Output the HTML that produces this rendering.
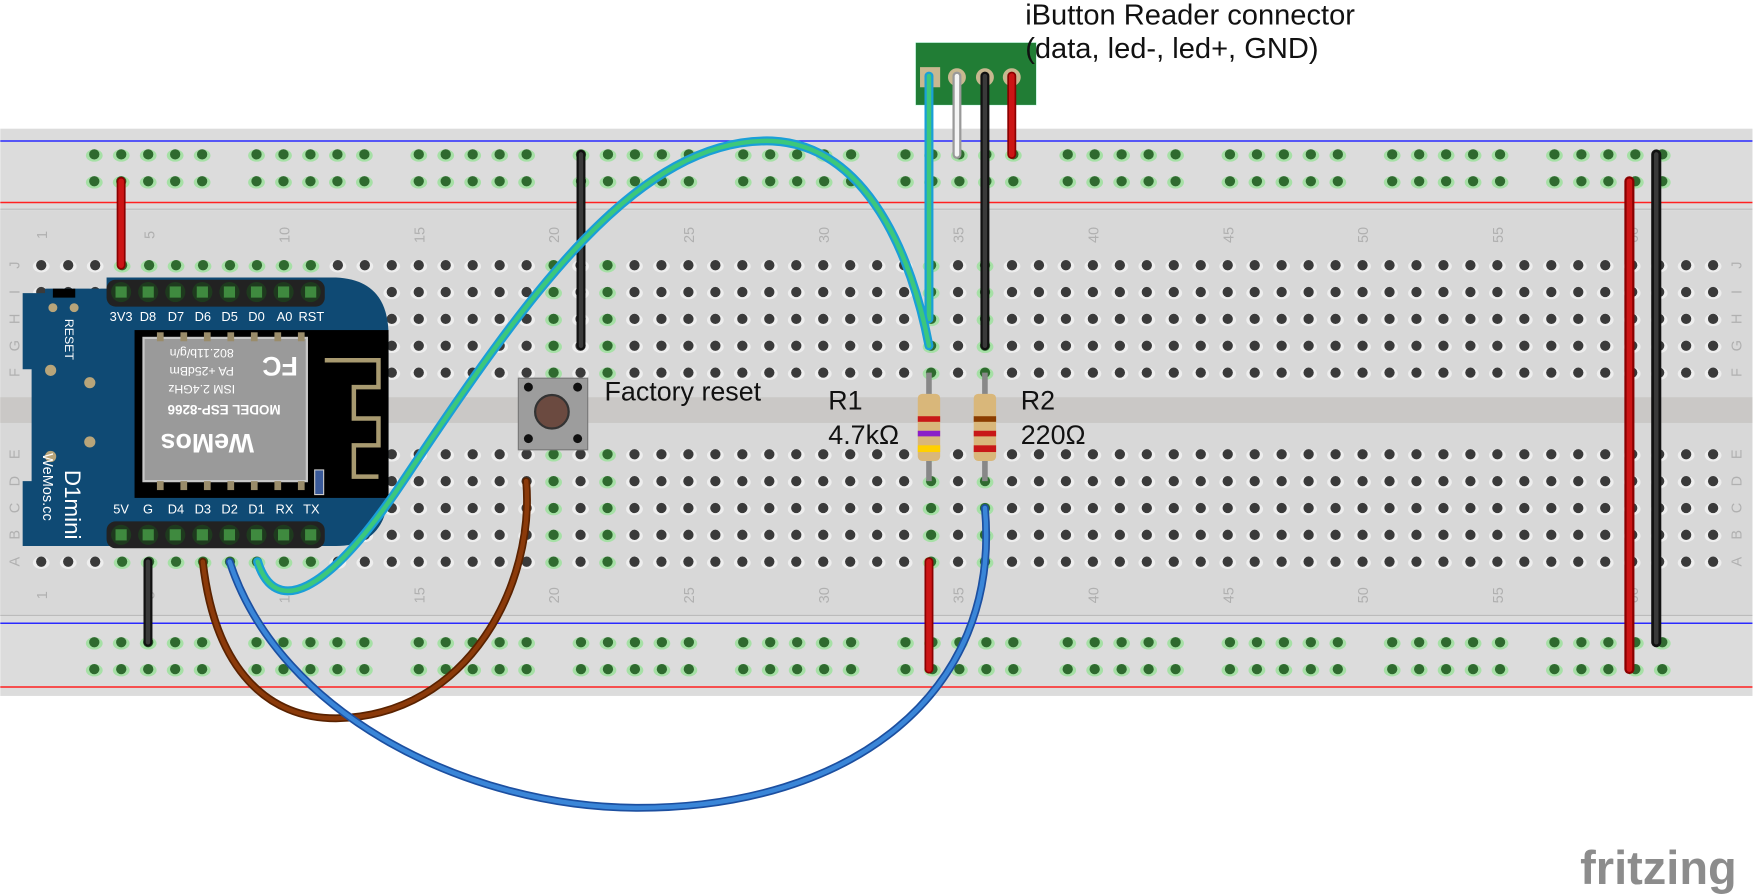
<!DOCTYPE html>
<html><head><meta charset="utf-8"><style>
html,body{margin:0;padding:0;background:#fff;}
svg{display:block;}
text{font-family:"Liberation Sans","DejaVu Sans",sans-serif;}
</style></head><body>
<svg id="s" xmlns="http://www.w3.org/2000/svg" width="1755" height="894" viewBox="0 0 1568 799">
<rect x="0" y="0" width="1568" height="799" fill="#fff"/>
<rect x="0" y="115" width="1566" height="507" fill="#dcdcdc"/>
<rect x="0" y="188" width="1566" height="362" fill="#d8d8d8"/>
<line x1="0" y1="187" x2="1566" y2="187" stroke="#bbb" stroke-width="1"/>
<line x1="0" y1="550" x2="1566" y2="550" stroke="#bbb" stroke-width="1"/>
<rect x="0" y="355" width="1566" height="23" fill="#cac8c6"/>
<line x1="0" y1="126" x2="1566" y2="126" stroke="#2a2aff" stroke-width="1.3"/>
<line x1="0" y1="181" x2="1566" y2="181" stroke="#ff2020" stroke-width="1.3"/>
<line x1="0" y1="557" x2="1566" y2="557" stroke="#2a2aff" stroke-width="1.3"/>
<line x1="0" y1="614" x2="1566" y2="614" stroke="#ff2020" stroke-width="1.3"/>
<g id="holes"></g>
<g id="labels" fill="#b0b0b0" font-size="13"></g>

<path d="M20,262 L40,262 L40,258 L95,258 L95,248 L300,248 Q347,250 347,300 L347,440 Q345,488 300,488 L20,488 L20,430 L28,430 L28,330 L20,330 Z" fill="#0f4a74"/>
<rect x="47" y="258" width="20" height="8" fill="#000"/>
<rect x="120" y="295" width="227" height="150" fill="#000"/>
<rect x="128" y="302" width="146" height="128" fill="#9a9a9a" stroke="#c8c8c8" stroke-width="2"/>
<path d="M290,322 H338 V346 H316 V374 H338 V398 H316 V426 H338" fill="none" stroke="#a89a70" stroke-width="4"/>
<rect x="281" y="420" width="8" height="22" fill="#3a5a9a" stroke="#ccc" stroke-width="1"/>
<g fill="#9a8c6a">
<rect x="140" y="297" width="6" height="8"/><rect x="161" y="297" width="6" height="8"/><rect x="182" y="297" width="6" height="8"/><rect x="203" y="297" width="6" height="8"/><rect x="224" y="297" width="6" height="8"/><rect x="245" y="297" width="6" height="8"/><rect x="266" y="297" width="6" height="8"/>
<rect x="140" y="430" width="6" height="8"/><rect x="161" y="430" width="6" height="8"/><rect x="182" y="430" width="6" height="8"/><rect x="203" y="430" width="6" height="8"/><rect x="224" y="430" width="6" height="8"/><rect x="245" y="430" width="6" height="8"/><rect x="266" y="430" width="6" height="8"/>
</g>
<g fill="#b8a57a"><circle cx="47" cy="275" r="4"/><circle cx="66" cy="275" r="4"/><circle cx="45" cy="331" r="5"/><circle cx="80" cy="342" r="5"/><circle cx="80" cy="395" r="5"/><circle cx="45" cy="408" r="5"/></g>
<g fill="#fff" font-size="11" text-anchor="middle">
<text x="180" y="320" transform="rotate(180 180 316)">802.11b/g/n</text>
<text x="180" y="336" transform="rotate(180 180 332)">PA +25dBm</text>
<text x="180" y="352" transform="rotate(180 180 348)">ISM 2.4GHz</text>
<text x="200" y="370" font-weight="bold" font-size="12" transform="rotate(180 200 366)">MODEL  ESP-8266</text>
<text x="185" y="404" font-weight="bold" font-size="24" transform="rotate(180 185 396)">WeMos</text>
<text x="250" y="335" font-weight="bold" font-size="24" transform="rotate(180 250 327)">FC</text>
</g>
<text fill="#fff" font-size="11" transform="translate(58,285) rotate(90)">RESET</text>
<text fill="#fff" font-size="20" transform="translate(58,420) rotate(90)">D1mini</text>
<text fill="#fff" font-size="13" transform="translate(38,405) rotate(90)">WeMos.cc</text>
<rect x="95" y="250" width="195" height="24" rx="8" fill="#222"/>
<rect x="95" y="466" width="195" height="24" rx="8" fill="#222"/>
<g id="pins"></g>
<g fill="#fff" font-size="11.5" text-anchor="middle">
<text x="108" y="287">3V3</text><text x="132" y="287">D8</text><text x="157" y="287">D7</text><text x="181" y="287">D6</text><text x="205" y="287">D5</text><text x="229" y="287">D0</text><text x="254" y="287">A0</text><text x="278" y="287">RST</text>
<text x="108" y="459">5V</text><text x="132" y="459">G</text><text x="157" y="459">D4</text><text x="181" y="459">D3</text><text x="205" y="459">D2</text><text x="229" y="459">D1</text><text x="254" y="459">RX</text><text x="278" y="459">TX</text>
</g>

<rect x="463" y="338" width="62" height="64" fill="#9d9d9d" stroke="#777" stroke-width="1"/>
<circle cx="493" cy="368" r="15" fill="#6b4a40" stroke="#333" stroke-width="2"/>
<g fill="#111"><circle cx="472" cy="346" r="4"/><circle cx="516" cy="346" r="4"/><circle cx="472" cy="392" r="4"/><circle cx="516" cy="392" r="4"/></g>
<text x="540" y="358" font-size="24" fill="#111">Factory reset</text>

<g stroke="#888" stroke-width="5"><line x1="830" y1="333" x2="830" y2="430"/><line x1="880" y1="333" x2="880" y2="430"/></g>
<rect x="820" y="352" width="20" height="60" rx="4" fill="#d9b77a"/>
<rect x="870" y="352" width="20" height="60" rx="4" fill="#d9b77a"/>
<rect x="820" y="372" width="20" height="5" fill="#c81818"/><rect x="820" y="385" width="20" height="5" fill="#8a1ec8"/><rect x="820" y="398" width="20" height="6" fill="#ffd000"/>
<rect x="870" y="372" width="20" height="5" fill="#8a3c00"/><rect x="870" y="385" width="20" height="5" fill="#c81818"/><rect x="870" y="398" width="20" height="6" fill="#c81818"/>
<g fill="#111" font-size="24"><text x="740" y="366">R1</text><text x="740" y="397">4.7kΩ</text><text x="912" y="366">R2</text><text x="912" y="397">220Ω</text></g>

<rect x="818" y="38" width="108" height="56" fill="#217d35" stroke="#cfe" stroke-width="0.5"/>
<rect x="822" y="60" width="18" height="18" fill="#c8b890"/>
<circle cx="855" cy="69" r="8" fill="#c8b890"/><circle cx="880" cy="69" r="8" fill="#c8b890"/><circle cx="904" cy="69" r="8" fill="#c8b890"/>
<g font-size="26" fill="#111"><text x="916" y="22">iButton Reader connector</text><text x="916" y="52">(data, led-, led+, GND)</text></g>

<g stroke-linecap="round">
<line x1="108" y1="162" x2="108" y2="237" stroke="#8a0000" stroke-width="8"/><line x1="108" y1="162" x2="108" y2="237" stroke="#cc1515" stroke-width="5"/>
<line x1="519" y1="138" x2="519" y2="309" stroke="#111" stroke-width="8"/><line x1="519" y1="138" x2="519" y2="309" stroke="#3a3a3a" stroke-width="4"/>
<line x1="132" y1="502" x2="132" y2="574" stroke="#111" stroke-width="8"/><line x1="132" y1="502" x2="132" y2="574" stroke="#3a3a3a" stroke-width="4"/>
<line x1="830" y1="502" x2="830" y2="598" stroke="#8a0000" stroke-width="8"/><line x1="830" y1="502" x2="830" y2="598" stroke="#cc1515" stroke-width="5"/>
<line x1="1456" y1="162" x2="1456" y2="598" stroke="#8a0000" stroke-width="9"/><line x1="1456" y1="162" x2="1456" y2="598" stroke="#cc1515" stroke-width="5"/>
<line x1="1480" y1="138" x2="1480" y2="574" stroke="#111" stroke-width="9"/><line x1="1480" y1="138" x2="1480" y2="574" stroke="#3a3a3a" stroke-width="4"/>
<line x1="855" y1="68" x2="855" y2="138" stroke="#999" stroke-width="8"/><line x1="855" y1="68" x2="855" y2="138" stroke="#f4f4f4" stroke-width="4"/>
<line x1="880" y1="68" x2="880" y2="309" stroke="#111" stroke-width="8"/><line x1="880" y1="68" x2="880" y2="309" stroke="#3a3a3a" stroke-width="4"/>
<line x1="904" y1="68" x2="904" y2="138" stroke="#8a0000" stroke-width="8"/><line x1="904" y1="68" x2="904" y2="138" stroke="#cc1515" stroke-width="5"/>
<line x1="830" y1="68" x2="830" y2="285" stroke="#1a9fd8" stroke-width="8"/><line x1="830" y1="68" x2="830" y2="285" stroke="#3cc77c" stroke-width="4"/>
</g>
<g fill="none" stroke-linecap="round">
<path d="M181,502 C192,600 240,642 300,642 C420,640 478,520 470,430" stroke="#5a2200" stroke-width="7"/>
<path d="M181,502 C192,600 240,642 300,642 C420,640 478,520 470,430" stroke="#8b3a0a" stroke-width="4"/>
<path d="M205,502 C250,640 420,722 570,722 C760,722 895,620 880,454" stroke="#1c4fa0" stroke-width="7"/>
<path d="M205,502 C250,640 420,722 570,722 C760,722 895,620 880,454" stroke="#3a86d8" stroke-width="4"/>
<path d="M230,502 C245,550 290,535 360,430 C470,265 570,122 690,126 C775,130 815,230 830,309" stroke="#1a9fd8" stroke-width="8"/>
<path d="M230,502 C245,550 290,535 360,430 C470,265 570,122 690,126 C775,130 815,230 830,309" stroke="#3cc77c" stroke-width="4"/>
</g>
<text x="1412" y="790" font-size="42" fill="#8c8c8c" font-family="Liberation Mono, monospace" font-weight="bold">fritzing</text>

<script>
(function(){
var NS="http://www.w3.org/2000/svg";
var H=document.getElementById('holes'),L=document.getElementById('labels'),P=document.getElementById('pins');
function hole(x,y,g){
 var e=document.createElementNS(NS,'ellipse');e.setAttribute('cx',x);e.setAttribute('cy',y+1);e.setAttribute('rx',7.5);e.setAttribute('ry',5.5);e.setAttribute('fill',g?'#a6e0a6':'#eeeeee');H.appendChild(e);
 var c=document.createElementNS(NS,'circle');c.setAttribute('cx',x);c.setAttribute('cy',y);c.setAttribute('r',4.6);c.setAttribute('fill',g?'#2f6a2f':'#3a3a3a');H.appendChild(c);
}
function cx(n){return 36.6+(n-1)*24.1;}
for(var g=0;g<10;g++)for(var k=0;k<5;k++){var x=84+g*145+k*24.1;[138,162,574,598].forEach(function(y){hole(x,y,true);});}
var top=[237,261,285,309,333],bot=[406,430,454,478,502];
var greenTop={4:1,5:1,6:1,7:1,8:1,9:1,10:1,11:1,20:1,22:1,34:1,36:1},greenBot={4:1,5:1,6:1,7:1,8:1,9:1,10:1,11:1,20:1,22:1,34:1,36:1};
for(var n=1;n<=63;n++){var x=cx(n);
 top.forEach(function(y){hole(x,y,greenTop[n]&&!(n<12&&y>237));});
 bot.forEach(function(y){hole(x,y,greenBot[n]&&(n>=12||y==502));});
 if(n==1||n%5==0){[[210],[532]].forEach(function(a){var t=document.createElementNS(NS,'text');t.setAttribute('transform','translate('+(x+5)+','+a[0]+') rotate(-90)');t.setAttribute('text-anchor','middle');t.textContent=n;L.appendChild(t);});}
}
var rows=['J','I','H','G','F'],rb=['E','D','C','B','A'];
for(var i=0;i<5;i++){[[17,top[i],rows[i]],[17,bot[i],rb[i]],[1556,top[i],rows[i]],[1556,bot[i],rb[i]]].forEach(function(a){var t=document.createElementNS(NS,'text');t.setAttribute('transform','translate('+a[0]+','+a[1]+') rotate(-90)');t.setAttribute('text-anchor','middle');t.textContent=a[2];L.appendChild(t);});}
for(var j=0;j<8;j++){var x=108+j*24.2;[261,478].forEach(function(y){var c=document.createElementNS(NS,'circle');c.setAttribute('cx',x);c.setAttribute('cy',y);c.setAttribute('r',9);c.setAttribute('fill','#1e3a1e');P.appendChild(c);var r=document.createElementNS(NS,'rect');r.setAttribute('x',x-5);r.setAttribute('y',y-5);r.setAttribute('width',10);r.setAttribute('height',10);r.setAttribute('fill','#3f8a3f');P.appendChild(r);});}
})();
</script>
</svg>
</body></html>
